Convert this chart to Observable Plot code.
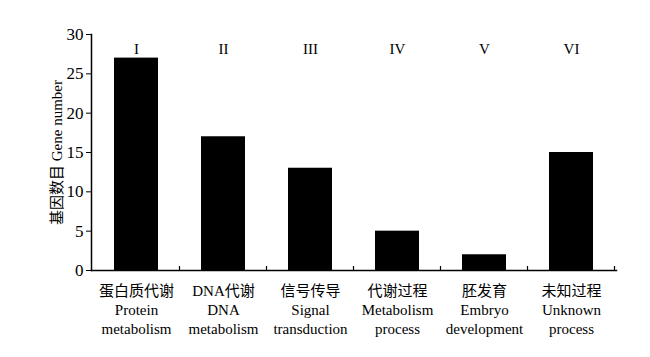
<!DOCTYPE html>
<html>
<head>
<meta charset="utf-8">
<script src="https://cdn.jsdelivr.net/npm/d3@7"></script>
<script src="https://cdn.jsdelivr.net/npm/@observablehq/plot@0.6"></script>
<style>
  html, body { margin: 0; padding: 0; background: #fff; }
  #chart { width: 650px; height: 357px; }
</style>
</head>
<body>
<div id="chart"></div>
<script>
const romans = ["I", "II", "III", "IV", "V", "VI"];
const namesCn = ["蛋白质代谢", "DNA代谢", "信号传导", "代谢过程", "胚发育", "未知过程"];
const namesEn = ["Protein\nmetabolism", "DNA\nmetabolism", "Signal\ntransduction", "Metabolism\nprocess", "Embryo\ndevelopment", "Unknown\nprocess"];
const geneCounts = [27, 17, 13, 5, 2, 15];
const yTicks = [0, 5, 10, 15, 20, 25, 30];
const yLabel = "基因数目 Gene number";

const data = romans.map((r, i) => ({roman: r, cn: namesCn[i], en: namesEn[i], value: geneCounts[i]}));
const font = "'Liberation Serif', 'Times New Roman', 'Noto Sans CJK SC', serif";

function boundaryTicks(index, scales, values, dimensions) {
  const fx = scales.x;
  const bw = fx.bandwidth ? fx.bandwidth() : 0;
  const left = dimensions.marginLeft, right = dimensions.width - dimensions.marginRight;
  const step = fx.step ? fx.step() : (right - left) / romans.length;
  const y0 = dimensions.height - dimensions.marginBottom;
  const g = d3.create("svg:g").attr("stroke", "black").attr("stroke-width", 1.2);
  romans.forEach(r => {
    const xb = fx(r) + bw + (step - bw) / 2;
    g.append("line").attr("x1", xb).attr("x2", xb).attr("y1", y0 - 4).attr("y2", y0);
  });
  return g.node();
}

const chart = Plot.plot({
  width: 650,
  height: 357,
  marginLeft: 91,
  marginRight: 34,
  marginTop: 34,
  marginBottom: 87,
  style: {fontFamily: font, background: "white", color: "black"},
  x: {domain: romans, paddingInner: 0.5, paddingOuter: 0.25, axis: null},
  y: {domain: [0, 30], axis: null},
  marks: [
    Plot.barY(data, {x: "roman", y: "value", fill: "black"}),
    Plot.frame({anchor: "left", stroke: "black", strokeWidth: 1.5}),
    Plot.frame({anchor: "bottom", stroke: "black", strokeWidth: 1.5}),
    boundaryTicks,
    Plot.axisY({ticks: yTicks, tickSize: 5, tickPadding: 3, fontSize: 17, label: null}),
    Plot.text([yLabel], {text: d => d, frameAnchor: "left", textAnchor: "middle", rotate: -90, dx: -34, dy: 0, fontSize: 15}),
    Plot.text(data, {x: "roman", text: "roman", frameAnchor: "top", dy: 9, fontSize: 15}),
    Plot.text(data, {x: "roman", text: d => d.cn + "\n" + d.en, frameAnchor: "bottom", lineAnchor: "top", dy: 12, fontSize: 15, lineHeight: 1.27})
  ]
});
document.getElementById("chart").appendChild(chart);
</script>
</body>
</html>
